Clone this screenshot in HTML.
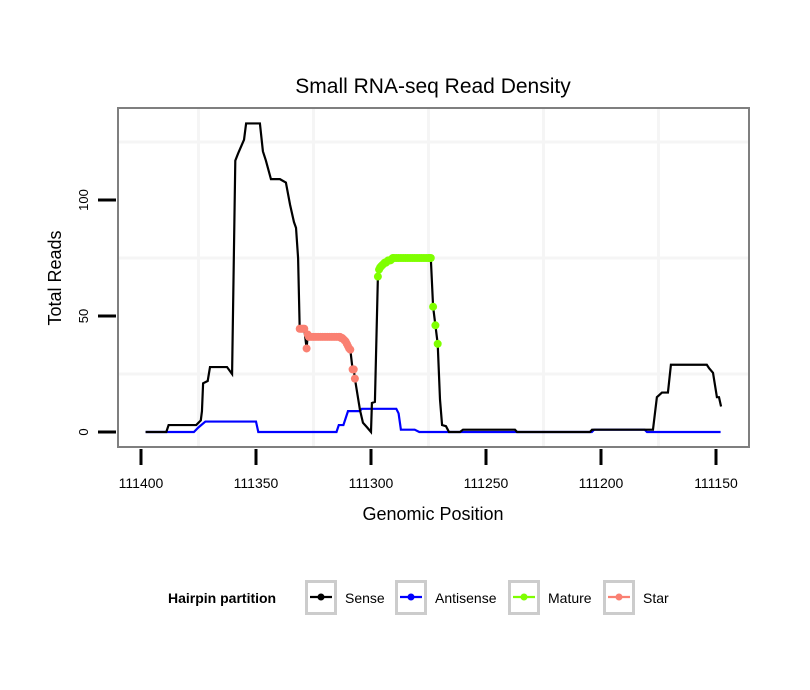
<!DOCTYPE html>
<html><head><meta charset="utf-8"><style>
body{margin:0;background:#fff;}
svg{display:block;font-family:"Liberation Sans",sans-serif;}
</style></head><body>
<svg id="chart" width="810" height="690">
<rect width="810" height="690" fill="#fff"/>
<text x="433" y="93" font-size="21" text-anchor="middle">Small RNA-seq Read Density</text>
<rect x="118" y="108" width="631" height="339" fill="#fff"/>
<g id="grid"></g>
<g id="series"></g>
<rect x="118" y="108" width="631" height="339" fill="none" stroke="#7f7f7f" stroke-width="2"/>
<g id="axes"></g>
<text x="433" y="520" font-size="18" text-anchor="middle">Genomic Position</text>
<text transform="translate(61,278) rotate(-90)" font-size="18" text-anchor="middle">Total Reads</text>
<g>
<text x="168" y="603" font-size="14" font-weight="bold">Hairpin partition</text>
<g id="legend"></g>
</g>
</svg>
<script>
const xTicks=[111400,111350,111300,111250,111200,111150];
const yTicks=[0,50,100];
const gridX=[111375,111325,111275,111225,111175];
const gridY=[25,75,125];
const sensePos=[111398,111389,111388,111376,111374,111373.5,111373,111371,111370,111362.6,111360.4,111359,111357.8,111355.2,111354.3,111348.3,111347,111345.7,111343.5,111339.6,111337,111335.2,111333.5,111332.6,111331.7,111304.8,111303.5,111301.7,111300,111299.6,111298.3,111270,111269.1,111267.4,111266.1,111261.3,111260,111237.4,111236.5,111204.8,111203.9,111177.4,111175.7,111173.5,111170.9,111169.6,111154,111153,111151.3,111149.6,111148.7,111147.8];
const senseVal=[0,0,3,3,5,9,21,22,28,28,25,117,120,126,133,133,121,117,109,109,107.5,98,90.5,88,75,9.5,4,2,0,12.5,13,14,3,2.5,0,0,1,1,0,0,1,1,15,17,17,29,29,27.5,25.5,15,15,11];
const starPos=[111331,111330.5,111330,111329.5,111329,111328,111327.5,111327,111326,111325,111324,111323,111322,111321,111320,111319,111318,111317,111316,111315,111314,111313.5,111313,111312.5,111312,111311.5,111311,111310.5,111310,111309.5,111309,111308,111307.5,111307];
const starVal=[44.5,44.5,44.5,44.5,44.5,36,42,41,41,41,41,41,41,41,41,41,41,41,41,41,41,41,40.5,40.5,40,39.5,39,38,37,36,35.5,27,27,23];
const maturePos=[111297,111296.5,111296,111295.5,111295,111294.5,111294,111293.5,111293,111292.5,111292,111291.5,111291,111290.5,111290,111289,111288,111287,111286,111285,111284,111283,111282,111281,111280,111279,111278,111277,111276,111275,111274.5,111274,111273,111272,111271];
const matureVal=[67,70,71,71.5,72,72.5,73,73,73.5,74,74,74,74.5,75,75,75,75,75,75,75,75,75,75,75,75,75,75,75,75,75,75,75,54,46,38];
const antiPos=[111398,111377,111375,111372,111350,111349,111315,111314,111312,111310,111305,111304,111289,111288,111287,111281,111279,111204,111203,111181,111180,111148];
const antiVal=[0,0,2,4.5,4.5,0,0,3,3,9,9,10,10,8,1,1,0,0,1,1,0,0];
const legendItems=["Sense","Antisense","Mature","Star"];
const legendColors=["#000","#0000ff","#7fff00","#fa8072"];
const legendBoxX=[305,395,508,603];

const NS="http://www.w3.org/2000/svg";
function xs(p){return 141+(111400-p)*2.3;}
function ys(v){return 432-v*2.32;}
function mk(tag,attrs,parent){const e=document.createElementNS(NS,tag);for(const k in attrs)e.setAttribute(k,attrs[k]);parent.appendChild(e);return e;}
const grid=document.getElementById('grid'),series=document.getElementById('series'),axes=document.getElementById('axes'),legend=document.getElementById('legend');
gridX.forEach(p=>{const l=mk('line',{x1:xs(p),x2:xs(p),y1:109,y2:446,stroke:'#f5f5f5','stroke-width':3},grid);

});
gridY.forEach(v=>{const l=mk('line',{x1:119,x2:748,y1:ys(v),y2:ys(v),stroke:'#f5f5f5','stroke-width':3},grid);

});
xTicks.forEach(p=>{const t=mk('line',{x1:xs(p),x2:xs(p),y1:449,y2:465,stroke:'#000','stroke-width':3},axes);


const tx=mk('text',{x:xs(p),y:488,'font-size':14,'text-anchor':'middle'},axes);tx.textContent=p;

});
yTicks.forEach(v=>{const t=mk('line',{x1:98,x2:116,y1:ys(v),y2:ys(v),stroke:'#000','stroke-width':3},axes);


const tx=mk('text',{transform:`translate(88,${ys(v)}) rotate(-90)`,'font-size':13,'text-anchor':'middle'},axes);tx.textContent=v;

});
let ad=antiPos.map((p,i)=>(i?'L':'M')+xs(p)+','+ys(antiVal[i])).join(' ');
const al=mk('path',{d:ad,fill:'none',stroke:'#0000ff','stroke-width':2.2},series);


let all=[];sensePos.forEach((p,i)=>all.push([p,senseVal[i]]));starPos.forEach((p,i)=>all.push([p,starVal[i]]));maturePos.forEach((p,i)=>all.push([p,matureVal[i]]));
all.sort((a,b)=>b[0]-a[0]);
const sd=all.map((d,i)=>(i?'L':'M')+xs(d[0])+','+ys(d[1])).join(' ');
const sl=mk('path',{d:sd,fill:'none',stroke:'#000','stroke-width':2.2},series);


starPos.forEach((p,i)=>{const c=mk('circle',{cx:xs(p),cy:ys(starVal[i]),r:4,fill:'#fa8072'},series);

});
maturePos.forEach((p,i)=>{const c=mk('circle',{cx:xs(p),cy:ys(matureVal[i]),r:4,fill:'#7fff00'},series);

});
legendItems.forEach((n,i)=>{const x=legendBoxX[i];
const g=mk('g',{},legend);


mk('rect',{x:x+1.5,y:581.5,width:29,height:32,fill:'#fff',stroke:'#cccccc','stroke-width':3},g);
mk('line',{x1:x+5,x2:x+27,y1:597,y2:597,stroke:legendColors[i],'stroke-width':2.2},g);
mk('circle',{cx:x+16,cy:597,r:3.5,fill:legendColors[i]},g);
const t=mk('text',{x:x+40,y:603,'font-size':14},g);t.textContent=n;});
</script>
</body></html>
